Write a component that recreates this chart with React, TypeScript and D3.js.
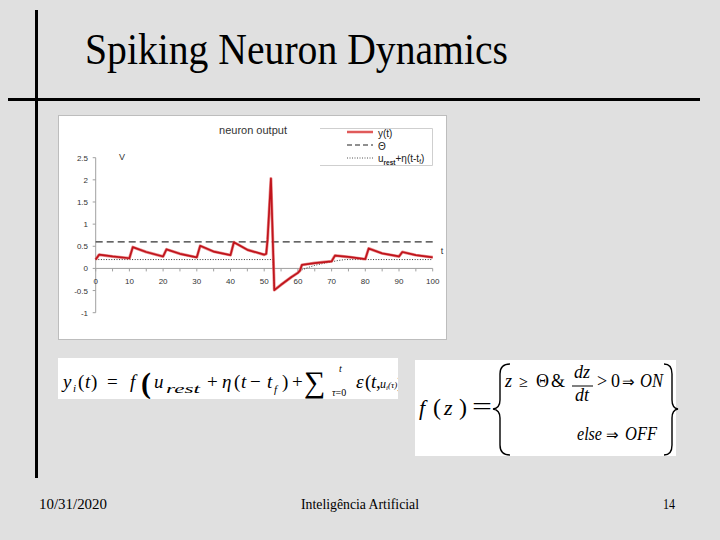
import React from "react";
import * as d3 from "d3";

const tY = [0, 1, 5, 10, 11, 15, 20, 21, 25, 30, 31, 35, 40, 41, 45, 50, 50.6, 51, 52, 53, 55, 58, 60, 60.6, 61.2, 65, 70, 71, 75, 80, 81, 85, 90, 91, 95, 100];
const yVals = [0.2, 0.31, 0.27, 0.23, 0.48, 0.37, 0.27, 0.43, 0.33, 0.25, 0.51, 0.38, 0.3, 0.59, 0.42, 0.31, 0.33, 0.65, 2.03, -0.49, -0.37, -0.2, -0.1, -0.05, 0.08, 0.12, 0.16, 0.29, 0.26, 0.21, 0.45, 0.34, 0.27, 0.37, 0.3, 0.25];
const tEta = [0, 52.6, 53, 55, 58, 60, 61, 63, 65, 68, 70, 72, 74, 100];
const etaVals = [0.2, 0.2, -0.49, -0.37, -0.2, -0.1, -0.04, 0.02, 0.07, 0.12, 0.15, 0.18, 0.2, 0.2];
const theta = 0.6;
const xTicks = [0, 10, 20, 30, 40, 50, 60, 70, 80, 90, 100];
const xMinorTicks = [0, 5, 10, 15, 20, 25, 30, 35, 40, 45, 50, 55, 60, 65, 70, 75, 80, 85, 90, 95, 100];
const yTicks = [2.5, 2, 1.5, 1, 0.5, 0, -0.5, -1];

const x = d3.scaleLinear().domain([0, 100]).range([95.7, 432.7]);
const y = d3.scaleLinear().domain([-1, 2.5]).range([312.7, 157.7]);

export default function App() {
  const line = d3
    .line<[number, number]>()
    .x((d) => x(d[0]))
    .y((d) => y(d[1]));
  const yPath = line(tY.map((t, i) => [t, yVals[i]]) as [number, number][]) || "";
  const etaPath = line(tEta.map((t, i) => [t, etaVals[i]]) as [number, number][]) || "";
  const serif = "Liberation Serif, serif";
  const sans = "Liberation Sans, Arial, sans-serif";
  return (
    <svg width={720} height={540} style={{ position: "absolute", left: 0, top: 0 }} xmlns="http://www.w3.org/2000/svg">
      <defs>
        <clipPath id="f1clip">
          <rect x={58} y={358} width={340} height={41} />
        </clipPath>
      </defs>
      <rect x={0} y={0} width={720} height={540} fill="#e0e0e0" />
      {/* slide decoration */}
      <rect x={35} y={10} width={3} height={468} fill="#000" />
      <rect x={8} y={98} width={692} height={3} fill="#000" />
      <text x={85} y={64} fontFamily={serif} fontSize={44} textLength={423} lengthAdjust="spacingAndGlyphs" fill="#000">
        Spiking Neuron Dynamics
      </text>

      {/* chart picture */}
      <rect x={58.5} y={115.5} width={388} height={224} fill="#fff" stroke="#bdbdbd" strokeWidth={1} />
      <text x={253} y={134} textAnchor="middle" fontFamily={sans} fontSize={11} fill="#333">
        neuron output
      </text>
      {/* legend box */}
      <path d="M320,128.5 H432.5 V165.5 H320" fill="none" stroke="#cfcfcf" strokeWidth={1} />
      <line x1={347} x2={373} y1={132} y2={132} stroke="#e05a5a" strokeWidth={2.5} />
      <line x1={347} x2={373} y1={145} y2={145} stroke="#222" strokeWidth={1.2} strokeDasharray="5,3" />
      <line x1={347} x2={373} y1={158} y2={158} stroke="#555" strokeWidth={1} strokeDasharray="1,1.5" />
      <text x={378} y={137} fontFamily={sans} fontSize={10} fill="#222">y(t)</text>
      <text x={378} y={149.5} fontFamily={sans} fontSize={10} fill="#222">Θ</text>
      <text x={378} y={162} fontFamily={sans} fontSize={10} fill="#222">
        u<tspan fontSize={6.5} dy={3} fontWeight="bold">rest</tspan>
        <tspan dy={-3}>+η(t-t</tspan>
        <tspan fontSize={6.5} dy={2}>f</tspan>
        <tspan dy={-2}>)</tspan>
      </text>

      {/* axes */}
      <line x1={x(0)} x2={x(0)} y1={y(2.5)} y2={y(-1)} stroke="#a0a0a0" strokeWidth={1} />
      {yTicks.map((v) => (
        <g key={"yt" + v}>
          <line x1={x(0) - 3} x2={x(0)} y1={y(v)} y2={y(v)} stroke="#a0a0a0" strokeWidth={1} />
          <text x={88} y={y(v) + 3} textAnchor="end" fontFamily={sans} fontSize={8} fill="#333">
            {String(v)}
          </text>
        </g>
      ))}
      <line x1={x(0)} x2={x(100)} y1={y(0)} y2={y(0)} stroke="#a0a0a0" strokeWidth={1} />
      {xMinorTicks.map((v) => (
        <line key={"xm" + v} x1={x(v)} x2={x(v)} y1={y(0)} y2={y(0) + 3} stroke="#a0a0a0" strokeWidth={1} />
      ))}
      {xTicks.map((v) => (
        <text key={"xt" + v} x={x(v)} y={284} textAnchor="middle" fontFamily={sans} fontSize={8} fill="#333">
          {String(v)}
        </text>
      ))}
      <text x={122} y={160} textAnchor="middle" fontFamily={sans} fontSize={9} fill="#333">V</text>
      <text x={442} y={254} textAnchor="middle" fontFamily={sans} fontSize={9} fill="#333">t</text>

      {/* series */}
      <line x1={x(0)} x2={x(100)} y1={y(theta)} y2={y(theta)} stroke="#333" strokeWidth={1.2} strokeDasharray="7,4" />
      <path d={etaPath} fill="none" stroke="#333" strokeWidth={1} strokeDasharray="1,1.6" />
      <path d={yPath} fill="none" stroke="#e06060" strokeWidth={3} strokeLinejoin="round" opacity={0.7} />
      <path d={yPath} fill="none" stroke="#c0141c" strokeWidth={1.7} strokeLinejoin="round" />

      {/* formula 1 */}
      <rect x={58} y={358} width={340} height={41} fill="#fff" />
      <g fontFamily={serif} fontStyle="italic" fontSize={19} fill="#000" clipPath="url(#f1clip)">
        <text x={63} y={388}>y</text>
        <text x={73} y={392} fontSize={11}>i</text>
        <text x={78} y={388} fontStyle="normal">(</text>
        <text x={85} y={388}>t</text>
        <text x={91} y={388} fontStyle="normal">)</text>
        <text x={107} y={388} fontStyle="normal">=</text>
        <text x={130} y={388}>f</text>
        <text x={141} y={393} fontStyle="normal" fontSize={30} fontWeight="bold">(</text>
        <text x={154} y={388}>u</text>
        <text x={166} y={393} fontSize={13} textLength={34} lengthAdjust="spacingAndGlyphs">rest</text>
        <text x={207} y={388} fontStyle="normal">+</text>
        <text x={222} y={388}>η</text>
        <text x={234} y={388} fontStyle="normal">(</text>
        <text x={241} y={388}>t</text>
        <text x={250} y={388} fontStyle="normal">−</text>
        <text x={267} y={388}>t</text>
        <text x={274} y={393} fontSize={11}>f</text>
        <text x={282} y={388} fontStyle="normal">)</text>
        <text x={292} y={388} fontStyle="normal">+</text>
        <text x={304} y={392} fontStyle="normal" fontSize={30}>∑</text>
        <text x={339} y={372} fontSize={10}>t</text>
        <text x={332} y={396} fontSize={10}>τ<tspan fontStyle="normal">=0</tspan></text>
        <text x={356} y={388}>ε</text>
        <text x={365} y={388} fontStyle="normal">(</text>
        <text x={371} y={388}>t</text>
        <text x={376} y={388} fontStyle="normal">,</text>
        <text x={380} y={388} fontSize={12}>
          u<tspan fontSize={7} dy={2}>i</tspan>
          <tspan fontSize={9} dy={-2}>(τ)</tspan>
          <tspan fontSize={14} fontStyle="normal">)</tspan>
        </text>
      </g>

      {/* formula 2 */}
      <rect x={415} y={360} width={261} height={96} fill="#fff" />
      <g fontFamily={serif} fontStyle="italic" fontSize={22} fill="#000">
        <text x={419} y={415}>f</text>
        <text x={433} y={415} fontStyle="normal" fontSize={24}>(</text>
        <text x={444} y={415}>z</text>
        <text x={459} y={415} fontStyle="normal" fontSize={24}>)</text>
        <text x={472} y={415} fontStyle="normal" fontSize={26} textLength={20} lengthAdjust="spacingAndGlyphs">=</text>
      </g>
      <g fontFamily={serif} fontStyle="italic" fontSize={18} fill="#000">
        <text x={505} y={387}>z</text>
        <text x={519} y={387} fontStyle="normal" fontSize={16}>≥</text>
        <text x={536} y={387} fontStyle="normal">Θ</text>
        <text x={551} y={387} fontStyle="normal">&amp;</text>
        <text x={582} y={378} textAnchor="middle">dz</text>
        <line x1={572} x2={593} y1={386} y2={386} stroke="#000" strokeWidth={1} />
        <text x={582} y={401} textAnchor="middle">dt</text>
        <text x={597} y={387} fontStyle="normal">&gt;</text>
        <text x={611} y={387} fontStyle="normal">0</text>
        <text x={622} y={387} fontStyle="normal" fontSize={15}>⇒</text>
        <text x={640} y={387} textLength={23} lengthAdjust="spacingAndGlyphs">ON</text>
        <text x={577} y={440} textLength={25} lengthAdjust="spacingAndGlyphs">else</text>
        <text x={606} y={440} fontStyle="normal" fontSize={15}>⇒</text>
        <text x={625} y={440} textLength={32} lengthAdjust="spacingAndGlyphs">OFF</text>
      </g>
      <path d="M510,364 Q500,364 500,374 L500,400 Q500,408 493,409 Q500,410 500,418 L500,445 Q500,455 510,455" fill="none" stroke="#000" strokeWidth={1.4} />
      <path d="M664,364 Q672,364 672,374 L672,400 Q672,408 678,409 Q672,410 672,418 L672,445 Q672,455 664,455" fill="none" stroke="#000" strokeWidth={1.4} />

      {/* footer */}
      <text x={39} y={509} fontFamily={serif} fontSize={14} textLength={68} lengthAdjust="spacingAndGlyphs" fill="#000">10/31/2020</text>
      <text x={301} y={509} fontFamily={serif} fontSize={14} textLength={118} lengthAdjust="spacingAndGlyphs" fill="#000">Inteligência Artificial</text>
      <text x={663} y={509} fontFamily={serif} fontSize={14} textLength={12} lengthAdjust="spacingAndGlyphs" fill="#000">14</text>
    </svg>
  );
}
